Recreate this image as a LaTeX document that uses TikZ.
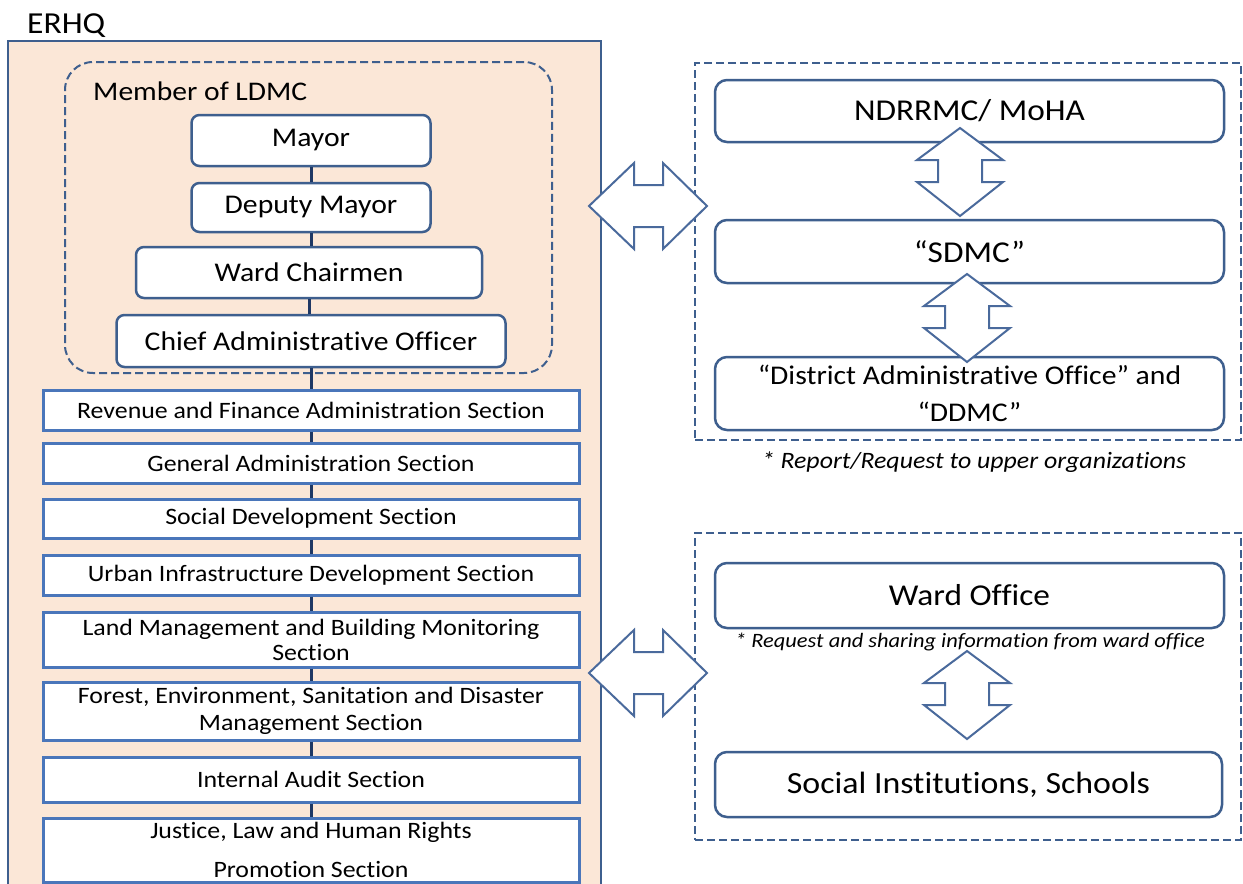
\documentclass[tikz,border=0pt]{standalone}
\usepackage{fontspec}
\setmainfont[FakeStretch=1.1,Ligatures=NoCommon,ItalicFont={Carlito Italic}]{Carlito}
\definecolor{peach}{HTML}{FBE7D7}
\definecolor{bord}{HTML}{3E5F8E}
\definecolor{secb}{HTML}{4A76BA}
\definecolor{navy}{HTML}{1F3864}
\definecolor{arrb}{HTML}{4A6A9C}
\begin{document}
\begin{tikzpicture}[x=1pt,y=-1pt,
  topbox/.style={draw=bord, line width=2.5pt, rounded corners=8pt, fill=white, inner sep=0pt, align=center, font=\fontsize{27}{30}\selectfont},
  secbox/.style={draw=secb, line width=3pt, fill=white, inner sep=0pt, align=center, font=\fontsize{23.5}{26}\selectfont},
  rightbox/.style={draw=bord, line width=2.5pt, rounded corners=12pt, fill=white, inner sep=0pt, align=center, font=\fontsize{30.3}{34}\selectfont, minimum width=509pt},
  dashbox/.style={draw=bord, line width=2pt, dash pattern=on 8pt off 4pt, inner sep=0pt},
  conn/.style={draw=navy, line width=3pt},
  blockarrow/.style={draw=arrb, line width=2pt, fill=white, line join=miter},
  note/.style={font=\fontsize{23.5}{26}\selectfont\itshape, inner sep=0pt}
]
\useasboundingbox (0,0) rectangle (1243,884);
\fill[white] (0,0) rectangle (1243,884);

% ERHQ outer box
\node[draw=bord, line width=2.5pt, fill=peach, inner sep=0pt, minimum width=593pt, minimum height=880pt] (erhq) at (304.5,481) {};
\node[anchor=base west, inner sep=0pt, font=\fontsize{30.5}{33}\selectfont] (erhqlbl) at (27,33) {ERHQ};

% LDMC dashed container
\node[dashbox, rounded corners=28pt, minimum width=487pt, minimum height=311pt] (ldmc) at (308.5,217.5) {};
\node[anchor=base west, inner sep=0pt, font=\fontsize{26.9}{30}\selectfont] (ldmclbl) at (93,100) {Member of LDMC};

% top boxes
\node[topbox, minimum width=239pt, minimum height=51pt] (mayor) at (311,140.5) {Mayor};
\node[topbox, minimum width=239pt, minimum height=49pt] (deputy) at (311,207.5) {Deputy Mayor};
\node[topbox, minimum width=346pt, minimum height=51pt] (ward) at (309,272.5) {Ward Chairmen};
\node[topbox, minimum width=389pt, minimum height=52pt] (cao) at (311,341) {Chief Administrative Officer};

% sections
\node[secbox, minimum width=536pt, minimum height=40pt] (rev) at (311,410) {Revenue and Finance Administration Section};
\node[secbox, minimum width=536pt, minimum height=40pt] (gen) at (311,463) {General Administration Section};
\node[secbox, minimum width=536pt, minimum height=39pt] (soc) at (311,518.5) {Social Development Section};
\node[secbox, minimum width=536pt, minimum height=40pt] (urb) at (311,575) {Urban Infrastructure Development Section};
\node[secbox, minimum width=536pt, minimum height=55pt, font=\fontsize{23.5}{25}\selectfont] (land) at (311,639.5) {Land Management and Building Monitoring\\Section};
\node[secbox, minimum width=536pt, minimum height=58pt, font=\fontsize{23.5}{27}\selectfont] (for) at (311,711) {Forest, Environment, Sanitation and Disaster\\Management Section};
\node[secbox, minimum width=536pt, minimum height=45pt] (aud) at (311,779.5) {Internal Audit Section};
\node[secbox, minimum width=536pt, minimum height=64pt, font=\fontsize{23.5}{39}\selectfont] (jus) at (311,850) {Justice, Law and Human Rights\\Promotion Section};

% connectors
\foreach \a/\b in {mayor/deputy, deputy/ward, ward/cao, cao/rev, rev/gen, gen/soc, soc/urb, urb/land, land/for, for/aud, aud/jus}
  \draw[conn] (\a.south) -- (\a.south |- \b.north);

% right upper group
\node[dashbox, minimum width=546pt, minimum height=377pt] (upper) at (968,251.5) {};
\node[rightbox, minimum height=62pt] (nd) at (969.5,111) {NDRRMC/ MoHA};
\node[rightbox, minimum height=63pt] (sdmc) at (969.5,251.5) {“SDMC”};
\node[rightbox, minimum height=73pt, font=\fontsize{27}{37}\selectfont] (dao) at (969.5,393.5) {“District Administrative Office” and\\“DDMC”};
\node[note, anchor=base] (n1) at (974,468) {* Report/Request to upper organizations};

% right lower group
\node[dashbox, minimum width=546pt, minimum height=307pt] (lower) at (968,686.5) {};
\node[rightbox, minimum height=65pt] (wo) at (969.5,595.5) {Ward Office};
\node[note, anchor=base, font=\fontsize{20.4}{23}\selectfont\itshape] (n2) at (970,647) {* Request and sharing information from ward office};
\node[rightbox, minimum width=507pt, minimum height=65pt, font=\fontsize{30.8}{34}\selectfont] (si) at (968.5,784.5) {Social Institutions, Schools};

% block arrows
\tikzset{
  harrow/.pic={\draw[blockarrow] (-59,0) -- (-14,-43) -- (-14,-21) -- (15,-21) -- (15,-43) -- (59,0) -- (15,43) -- (15,21) -- (-14,21) -- (-14,43) -- cycle;},
  varrow/.pic={\draw[blockarrow] (0,-44) -- (43,-12) -- (22,-12) -- (22,10) -- (43,10) -- (0,44) -- (-43,10) -- (-22,10) -- (-22,-12) -- (-43,-12) -- cycle;}
}
\pic at (648,206) {harrow};
\pic at (648,673) {harrow};
\pic at (960,172) {varrow};
\pic at (967,318) {varrow};
\pic at (967,695) {varrow};
\end{tikzpicture}
\end{document}
